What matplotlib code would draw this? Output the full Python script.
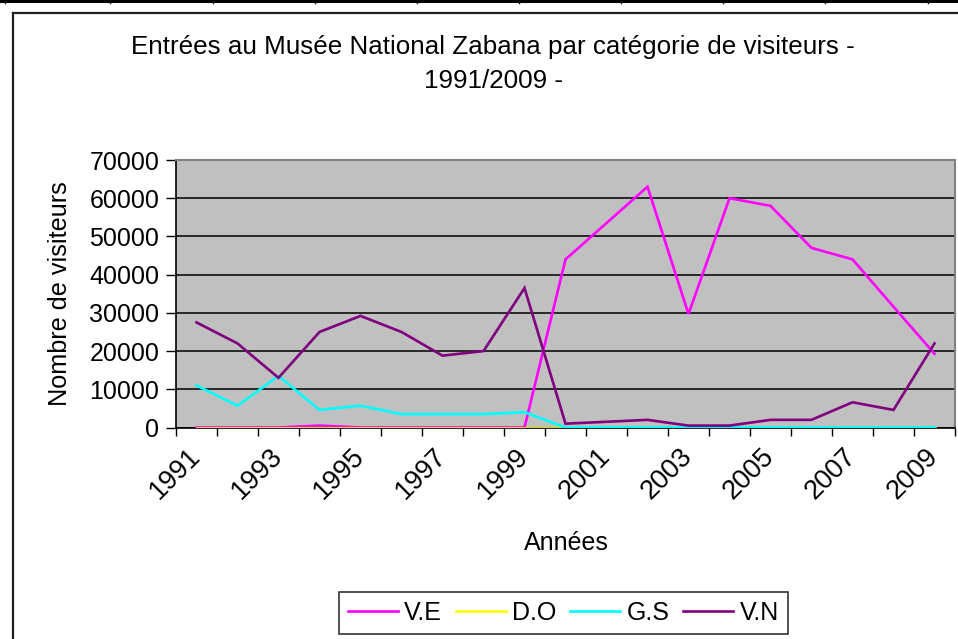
import matplotlib
matplotlib.use("Agg")
import matplotlib.pyplot as plt
from matplotlib.lines import Line2D

plt.rcParams['font.family'] = ['Liberation Sans', 'DejaVu Sans']

years = list(range(1991, 2010))
ve = [0, 0, 0, 500, 0, 0, 0, 0, 0, 44000, 53500, 63000, 29700, 60000, 58000, 47000, 44000, 31600, 19300]
do = [0] * 19
gs = [11000, 5700, 13500, 4600, 5700, 3500, 3500, 3500, 4000, 0, 0, 0, 0, 0, 0, 0, 0, 0, 0]
vn = [27500, 22000, 13000, 25000, 29200, 25000, 18800, 20000, 36500, 1000, 1500, 2000, 500, 500, 2000, 2000, 6600, 4600, 22000]
series_names = ['V.E', 'D.O', 'G.S', 'V.N']
colors = ['#FF00FF', '#FFFF00', '#00FFFF', '#800080']

W, H = 958, 639
fig = plt.figure(figsize=(W / 100, H / 100), dpi=100)

def fx(px):
    return px / W

def fy(py):
    return 1 - py / H

# outer sheet decorations
fig.add_artist(Line2D([0, 1], [fy(1), fy(1)], color='black', lw=2.2, transform=fig.transFigure))
for xp in [5, 110, 213, 315, 417, 519, 621, 723, 825, 928]:
    fig.add_artist(Line2D([fx(xp), fx(xp)], [fy(0), fy(3)], color='black', lw=1, transform=fig.transFigure))
fig.add_artist(Line2D([fx(13), 1], [fy(13), fy(13)], color='#202020', lw=1.6, transform=fig.transFigure))
fig.add_artist(Line2D([fx(13), fx(13)], [fy(13), 0], color='#202020', lw=1.6, transform=fig.transFigure))

left, right, top, bottom = 176, 955, 160, 427.5
ax = fig.add_axes([fx(left), fy(bottom), fx(right - left), (bottom - top) / H])
ax.set_facecolor('#C0C0C0')

x = list(range(len(years)))
for vals, name, c in zip([ve, do, gs, vn], series_names, colors):
    ax.plot(x, vals, color=c, lw=1.9, label=name, solid_joinstyle='miter', zorder=3)

ax.set_xlim(-0.5, len(years) - 0.5)
ax.set_ylim(0, 70000)
ax.set_yticks(range(0, 70001, 10000))
ax.set_yticklabels([str(v) for v in range(0, 70001, 10000)], fontsize=18)
ax.yaxis.grid(True, color='black', lw=1.1, zorder=1)
ax.set_axisbelow(True)

ax.set_xticks([i - 0.5 for i in range(len(years) + 1)], minor=True)
ax.set_xticks(x[::2])
ax.set_xticklabels([str(y) for y in years[::2]], fontsize=19.5, rotation=45,
                   ha='right', va='center', rotation_mode='anchor')
ax.tick_params(axis='x', which='major', length=0, pad=18)
ax.tick_params(axis='x', which='minor', length=6, width=1, direction='out')
ax.tick_params(axis='y', length=7, width=1, direction='out', pad=5)

for s in ['top', 'right']:
    ax.spines[s].set_color('#808080')
    ax.spines[s].set_linewidth(1.5)
for s in ['left', 'bottom']:
    ax.spines[s].set_color('black')
    ax.spines[s].set_linewidth(1.2)

fig.text(fx(493), fy(47), "Entrées au Musée National Zabana par catégorie de visiteurs -",
         ha='center', va='center', fontsize=18.7)
fig.text(fx(493), fy(81), "1991/2009 -", ha='center', va='center', fontsize=18.7)
fig.text(fx(60), fy(294), "Nombre de visiteurs", rotation=90, ha='center', va='center', fontsize=18.2)
fig.text(fx(566), fy(543), "Années", ha='center', va='center', fontsize=18)

leg = fig.legend(loc='center', bbox_to_anchor=(fx(563.5), fy(613)), ncol=4, fontsize=18,
                 frameon=True, fancybox=False, edgecolor='black', handlelength=2.0,
                 columnspacing=0.55, handletextpad=0.25, borderpad=0.35, borderaxespad=0)
leg.get_frame().set_linewidth(1.2)

fig.savefig('out.png', dpi=100, facecolor='white')
